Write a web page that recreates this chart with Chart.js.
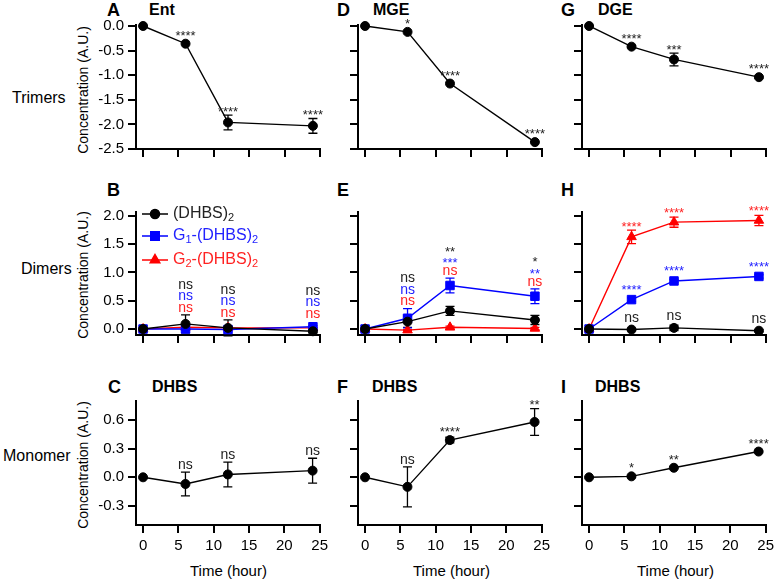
<!DOCTYPE html>
<html>
<head>
<meta charset="utf-8">
<script src="https://cdn.jsdelivr.net/npm/chart.js@4.4.0/dist/chart.umd.min.js"></script>
<style>
  body { margin: 0; background: #fff; font-family: "Liberation Sans", Arial, Helvetica, sans-serif; }
  #fig { position: relative; width: 777px; height: 581px; overflow: hidden; }
  #fig canvas { position: absolute; }
  .t { position: absolute; white-space: nowrap; line-height: 1; transform: translateY(-50%); color: #000; font-weight: 400; }
  .row { font-size: 16px; }
  .let { font-size: 18px; font-weight: bold; }
  .ttl { font-size: 16px; font-weight: bold; }
  .yt { font-size: 14px; transform: translate(-50%, -50%) rotate(-90deg); }
  .xt { font-size: 15px; line-height: 16px; font-weight: 400; transform: none; }
</style>
</head>
<body>
<div id="fig">
  <div class="t row" style="left:12px;top:98px">Trimers</div>
  <div class="t row" style="left:21px;top:269px">Dimers</div>
  <div class="t row" style="left:3px;top:456px">Monomer</div>

  <div class="t yt" style="left:83px;top:90px">Concentration (A.U.)</div>
  <div class="t yt" style="left:83px;top:275px">Concentration (A.U.)</div>
  <div class="t yt" style="left:83px;top:465px">Concentration (A.U.)</div>

  <div class="t let" style="left:107px;top:10px">A</div>
  <div class="t ttl" style="left:149px;top:10px">Ent</div>
  <div class="t let" style="left:337px;top:10px">D</div>
  <div class="t ttl" style="left:373px;top:10px">MGE</div>
  <div class="t let" style="left:561px;top:10px">G</div>
  <div class="t ttl" style="left:598px;top:10px">DGE</div>

  <div class="t let" style="left:107px;top:190px">B</div>
  <div class="t let" style="left:337px;top:190px">E</div>
  <div class="t let" style="left:561px;top:190px">H</div>

  <div class="t let" style="left:108px;top:387px">C</div>
  <div class="t ttl" style="left:152px;top:387px">DHBS</div>
  <div class="t let" style="left:337px;top:387px">F</div>
  <div class="t ttl" style="left:372px;top:387px">DHBS</div>
  <div class="t let" style="left:561px;top:387px">I</div>
  <div class="t ttl" style="left:595px;top:387px">DHBS</div>

  <div class="t xt" style="left:190px;top:563px">Time (hour)</div>
  <div class="t xt" style="left:413px;top:563px">Time (hour)</div>
  <div class="t xt" style="left:637px;top:563px">Time (hour)</div>
</div>
<script>
// sampling times (hours)
const hours = [0, 6, 12, 24];
const xTicks = [0, 5, 10, 15, 20, 25];
const seriesNames = ['(DHBS)₂', 'G₁-(DHBS)₂', 'G₂-(DHBS)₂'];

// trimers
const yTicksTri = [0, -0.5, -1.0, -1.5, -2.0, -2.5];
const entTri = [0, -0.36, -1.96, -2.03];
const entTriErr = [0, 0, 0.15, 0.15];
const entTriSig = ['', '****', '****', '****'];
const mgeTri = [0, -0.12, -1.17, -2.36];
const mgeTriErr = [0, 0, 0, 0];
const mgeTriSig = ['', '*', '****', '****'];
const dgeTri = [0, -0.42, -0.68, -1.04];
const dgeTriErr = [0, 0.02, 0.13, 0.02];
const dgeTriSig = ['', '****', '***', '****'];

// dimers
const yTicksDi = [0, 0.5, 1.0, 1.5, 2.0];
const entDiK = [0, 0.09, 0.02, -0.04];
const entDiKErr = [0, 0.16, 0.14, 0.03];
const entDiB = [0, 0.0, -0.01, 0.04];
const entDiBErr = [0, 0.02, 0.02, 0.02];
const entDiR = [0, 0.03, 0.02, 0.02];
const entDiRErr = [0, 0.01, 0.01, 0.01];
const entDiSigK = ['', 'ns', 'ns', 'ns'];
const entDiSigB = ['', 'ns', 'ns', 'ns'];
const entDiSigR = ['', 'ns', 'ns', 'ns'];

const mgeDiK = [0, 0.13, 0.32, 0.16];
const mgeDiKErr = [0, 0.1, 0.08, 0.08];
const mgeDiB = [0, 0.19, 0.77, 0.58];
const mgeDiBErr = [0, 0.17, 0.13, 0.13];
const mgeDiR = [0, -0.02, 0.03, 0.01];
const mgeDiRErr = [0, 0.01, 0.02, 0.02];
const mgeDiSigK = ['', 'ns', '**', '*'];
const mgeDiSigB = ['', 'ns', '***', '**'];
const mgeDiSigR = ['', 'ns', 'ns', 'ns'];

const dgeDiK = [0, -0.01, 0.02, -0.03];
const dgeDiKErr = [0, 0.02, 0.05, 0.02];
const dgeDiB = [0, 0.52, 0.85, 0.93];
const dgeDiBErr = [0, 0.03, 0.03, 0.03];
const dgeDiR = [0, 1.63, 1.89, 1.92];
const dgeDiRErr = [0, 0.12, 0.09, 0.09];
const dgeDiSigK = ['', 'ns', 'ns', 'ns'];
const dgeDiSigB = ['', '****', '****', '****'];
const dgeDiSigR = ['', '****', '****', '****'];

// monomer
const yTicksMono = [0.6, 0.3, 0, -0.3];
const entMono = [0, -0.07, 0.03, 0.07];
const entMonoErr = [0, 0.125, 0.13, 0.13];
const entMonoSig = ['', 'ns', 'ns', 'ns'];
const mgeMono = [0, -0.10, 0.39, 0.58];
const mgeMonoErr = [0, 0.21, 0.03, 0.14];
const mgeMonoSig = ['', 'ns', '****', '**'];
const dgeMono = [0, 0.01, 0.10, 0.27];
const dgeMonoErr = [0, 0.01, 0.01, 0.01];
const dgeMonoSig = ['', '*', '**', '****'];

const FONT = '"Liberation Sans", Arial, Helvetica, sans-serif';
Chart.defaults.font.family = FONT;
Chart.defaults.color = '#000';

const BLACK = '#000000', BLUE = '#0000ff', RED = '#ff0000';
const TXT = { [BLACK]: '#222', [BLUE]: '#2222ff', [RED]: '#ff2222' };

// layout of the grid (pixels)
const axisX = [136, 358, 582];
const plotW = 184;
const rowTop = [25, 212, 401];
const rowBot = [149, 335, 525];
const yRange = [[-2.5, 0.02], [-0.106, 2.07], [-0.5, 0.8]];
const yTickSets = [yTicksTri, yTicksDi, yTicksMono];
const PADT = 14, PADR = 12, YW = 50, XH = 40;

function ser(vals, err, sig, color, style) {
  return { vals, err, sig, color, style };
}
const k = (v, e, s) => ser(v, e, s, BLACK, 'circle');
const b = (v, e, s) => ser(v, e, s, BLUE, 'rect');
const r = (v, e, s) => ser(v, e, s, RED, 'triangle');

const panels = [
  { row: 0, col: 0, series: [k(entTri, entTriErr, entTriSig)] },
  { row: 0, col: 1, series: [k(mgeTri, mgeTriErr, mgeTriSig)] },
  { row: 0, col: 2, series: [k(dgeTri, dgeTriErr, dgeTriSig)] },
  { row: 1, col: 0, stack: true, legend: true, series: [k(entDiK, entDiKErr, entDiSigK), b(entDiB, entDiBErr, entDiSigB), r(entDiR, entDiRErr, entDiSigR)] },
  { row: 1, col: 1, stack: true, series: [k(mgeDiK, mgeDiKErr, mgeDiSigK), b(mgeDiB, mgeDiBErr, mgeDiSigB), r(mgeDiR, mgeDiRErr, mgeDiSigR)] },
  { row: 1, col: 2, series: [k(dgeDiK, dgeDiKErr, dgeDiSigK), b(dgeDiB, dgeDiBErr, dgeDiSigB), r(dgeDiR, dgeDiRErr, dgeDiSigR)] },
  { row: 2, col: 0, series: [k(entMono, entMonoErr, entMonoSig)] },
  { row: 2, col: 1, series: [k(mgeMono, mgeMonoErr, mgeMonoSig)] },
  { row: 2, col: 2, series: [k(dgeMono, dgeMonoErr, dgeMonoSig)] },
];

const RAD = { circle: 4.5, rect: 6, triangle: 5.5 };

// error bars behind the markers
const errorBars = {
  id: 'errorBars',
  beforeDatasetsDraw(chart) {
    const ctx = chart.ctx, ys = chart.scales.y, xs = chart.scales.x;
    chart.data.datasets.forEach(ds => {
      ctx.save();
      ctx.strokeStyle = ds.borderColor;
      ctx.lineWidth = 1.3;
      ds.data.forEach((p, j) => {
        const e = ds.err[j];
        if (!e) return;
        const px = xs.getPixelForValue(p.x);
        const t = ys.getPixelForValue(p.y + e), bt = ys.getPixelForValue(p.y - e);
        ctx.beginPath();
        ctx.moveTo(px, t); ctx.lineTo(px, bt);
        ctx.moveTo(px - 4.5, t); ctx.lineTo(px + 4.5, t);
        ctx.moveTo(px - 4.5, bt); ctx.lineTo(px + 4.5, bt);
        ctx.stroke();
      });
      ctx.restore();
    });
  }
};

function drawSigLine(ctx, text, color, x, cy) {
  ctx.fillStyle = TXT[color] || color;
  ctx.textAlign = 'center';
  ctx.textBaseline = 'alphabetic';
  if (text.startsWith('*')) {
    ctx.font = '13px ' + FONT;
    ctx.fillText(text, x, cy + 7.5);
  } else {
    ctx.font = '14px ' + FONT;
    ctx.fillText(text, x, cy + 3.8);
  }
}

// significance labels above points
const sigMarks = {
  id: 'sigMarks',
  afterDatasetsDraw(chart, args, opts) {
    const ctx = chart.ctx, ys = chart.scales.y, xs = chart.scales.x;
    const dss = chart.data.datasets;
    const topOf = (ds, j) => {
      const p = ds.data[j];
      const py = ys.getPixelForValue(p.y) - ds.pointRadius;
      return ds.err[j] ? Math.min(py, ys.getPixelForValue(p.y + ds.err[j])) : py;
    };
    ctx.save();
    hours.forEach((h, j) => {
      const px = xs.getPixelForValue(h);
      if (opts.stack) {
        const anchor = Math.min(...dss.map(ds => topOf(ds, j)));
        let n = 0;
        for (let i = dss.length - 1; i >= 0; i--) {
          const s = dss[i].sig[j];
          if (!s) continue;
          drawSigLine(ctx, s, dss[i].borderColor, px, anchor - 7 - n * 11.5);
          n++;
        }
      } else {
        dss.forEach(ds => {
          const s = ds.sig[j];
          if (s) drawSigLine(ctx, s, ds.borderColor, px, topOf(ds, j) - 7);
        });
      }
    });
    ctx.restore();
  }
};

function drawRich(ctx, str, x, y, size) {
  const subs = '₀₁₂₃₄₅₆₇₈₉';
  for (const ch of str) {
    const si = subs.indexOf(ch);
    if (si >= 0) {
      ctx.font = Math.round(size * 0.7) + 'px ' + FONT;
      ctx.fillText(String(si), x, y + 4);
      x += ctx.measureText(String(si)).width;
    } else {
      ctx.font = size + 'px ' + FONT;
      ctx.fillText(ch, x, y);
      x += ctx.measureText(ch).width;
    }
  }
}

// legend drawn inside panel B
const innerLegend = {
  id: 'innerLegend',
  afterDraw(chart, args, opts) {
    if (!opts.show) return;
    const ctx = chart.ctx, a = chart.chartArea;
    const rowsY = [2, 24, 48];
    ctx.save();
    chart.data.datasets.forEach((ds, i) => {
      const y = a.top + rowsY[i];
      ctx.strokeStyle = ds.borderColor;
      ctx.lineWidth = 1.5;
      ctx.beginPath();
      ctx.moveTo(a.left + 6, y); ctx.lineTo(a.left + 32, y);
      ctx.stroke();
      ctx.fillStyle = ds.borderColor;
      Chart.helpers.drawPoint(ctx, { pointStyle: ds.pointStyle, radius: ds.pointRadius, borderWidth: 1, rotation: 0 }, a.left + 19, y);
      ctx.fill();
      ctx.fillStyle = TXT[ds.borderColor];
      ctx.textAlign = 'left';
      ctx.textBaseline = 'middle';
      drawRich(ctx, seriesNames[i], a.left + 37, y, 16);
    });
    ctx.restore();
  }
};

const fig = document.getElementById('fig');
panels.forEach(p => {
  const cv = document.createElement('canvas');
  const h = PADT + (rowBot[p.row] - rowTop[p.row]) + XH;
  const w = YW + plotW + PADR;
  cv.width = w; cv.height = h;
  cv.style.left = (axisX[p.col] - YW) + 'px';
  cv.style.top = (rowTop[p.row] - PADT) + 'px';
  cv.style.width = w + 'px'; cv.style.height = h + 'px';
  fig.appendChild(cv);

  const datasets = p.series.map(s => ({
    data: hours.map((t, i) => ({ x: t, y: s.vals[i] })),
    err: s.err,
    sig: s.sig,
    borderColor: s.color,
    backgroundColor: s.color,
    borderWidth: 1.4,
    pointStyle: s.style,
    pointRadius: RAD[s.style],
    pointBorderWidth: 1,
    pointBorderColor: s.color,
    pointBackgroundColor: s.color,
    tension: 0,
    clip: false
  }));

  const yt = yTickSets[p.row];
  new Chart(cv, {
    type: 'line',
    data: { datasets },
    plugins: [errorBars, sigMarks, innerLegend],
    options: {
      responsive: false,
      animation: false,
      devicePixelRatio: 1,
      layout: { padding: { top: PADT, right: PADR, left: 0, bottom: 0 } },
      plugins: {
        legend: { display: false },
        tooltip: { enabled: false },
        sigMarks: { stack: !!p.stack },
        innerLegend: { show: !!p.legend }
      },
      scales: {
        x: {
          type: 'linear',
          min: -1, max: 25,
          afterBuildTicks: sc => { sc.ticks = xTicks.map(v => ({ value: v })); },
          afterFit: sc => { sc.height = XH; },
          grid: { drawOnChartArea: false, drawTicks: true, tickLength: 8, color: '#000', lineWidth: 2 },
          border: { display: true, color: '#000', width: 2 },
          ticks: { display: p.row === 2, padding: 4, font: { size: 15 }, color: '#000', maxRotation: 0 }
        },
        y: {
          type: 'linear',
          min: yRange[p.row][0], max: yRange[p.row][1],
          afterBuildTicks: sc => { sc.ticks = yt.map(v => ({ value: v })); },
          afterFit: sc => { sc.width = YW; },
          grid: { drawOnChartArea: false, drawTicks: true, tickLength: 8, color: '#000', lineWidth: 2 },
          border: { display: true, color: '#000', width: 2 },
          ticks: {
            display: p.col === 0, padding: 4, font: { size: 15 }, color: '#000',
            callback: v => v.toFixed(1)
          }
        }
      }
    }
  });
});
</script>
</body>
</html>
